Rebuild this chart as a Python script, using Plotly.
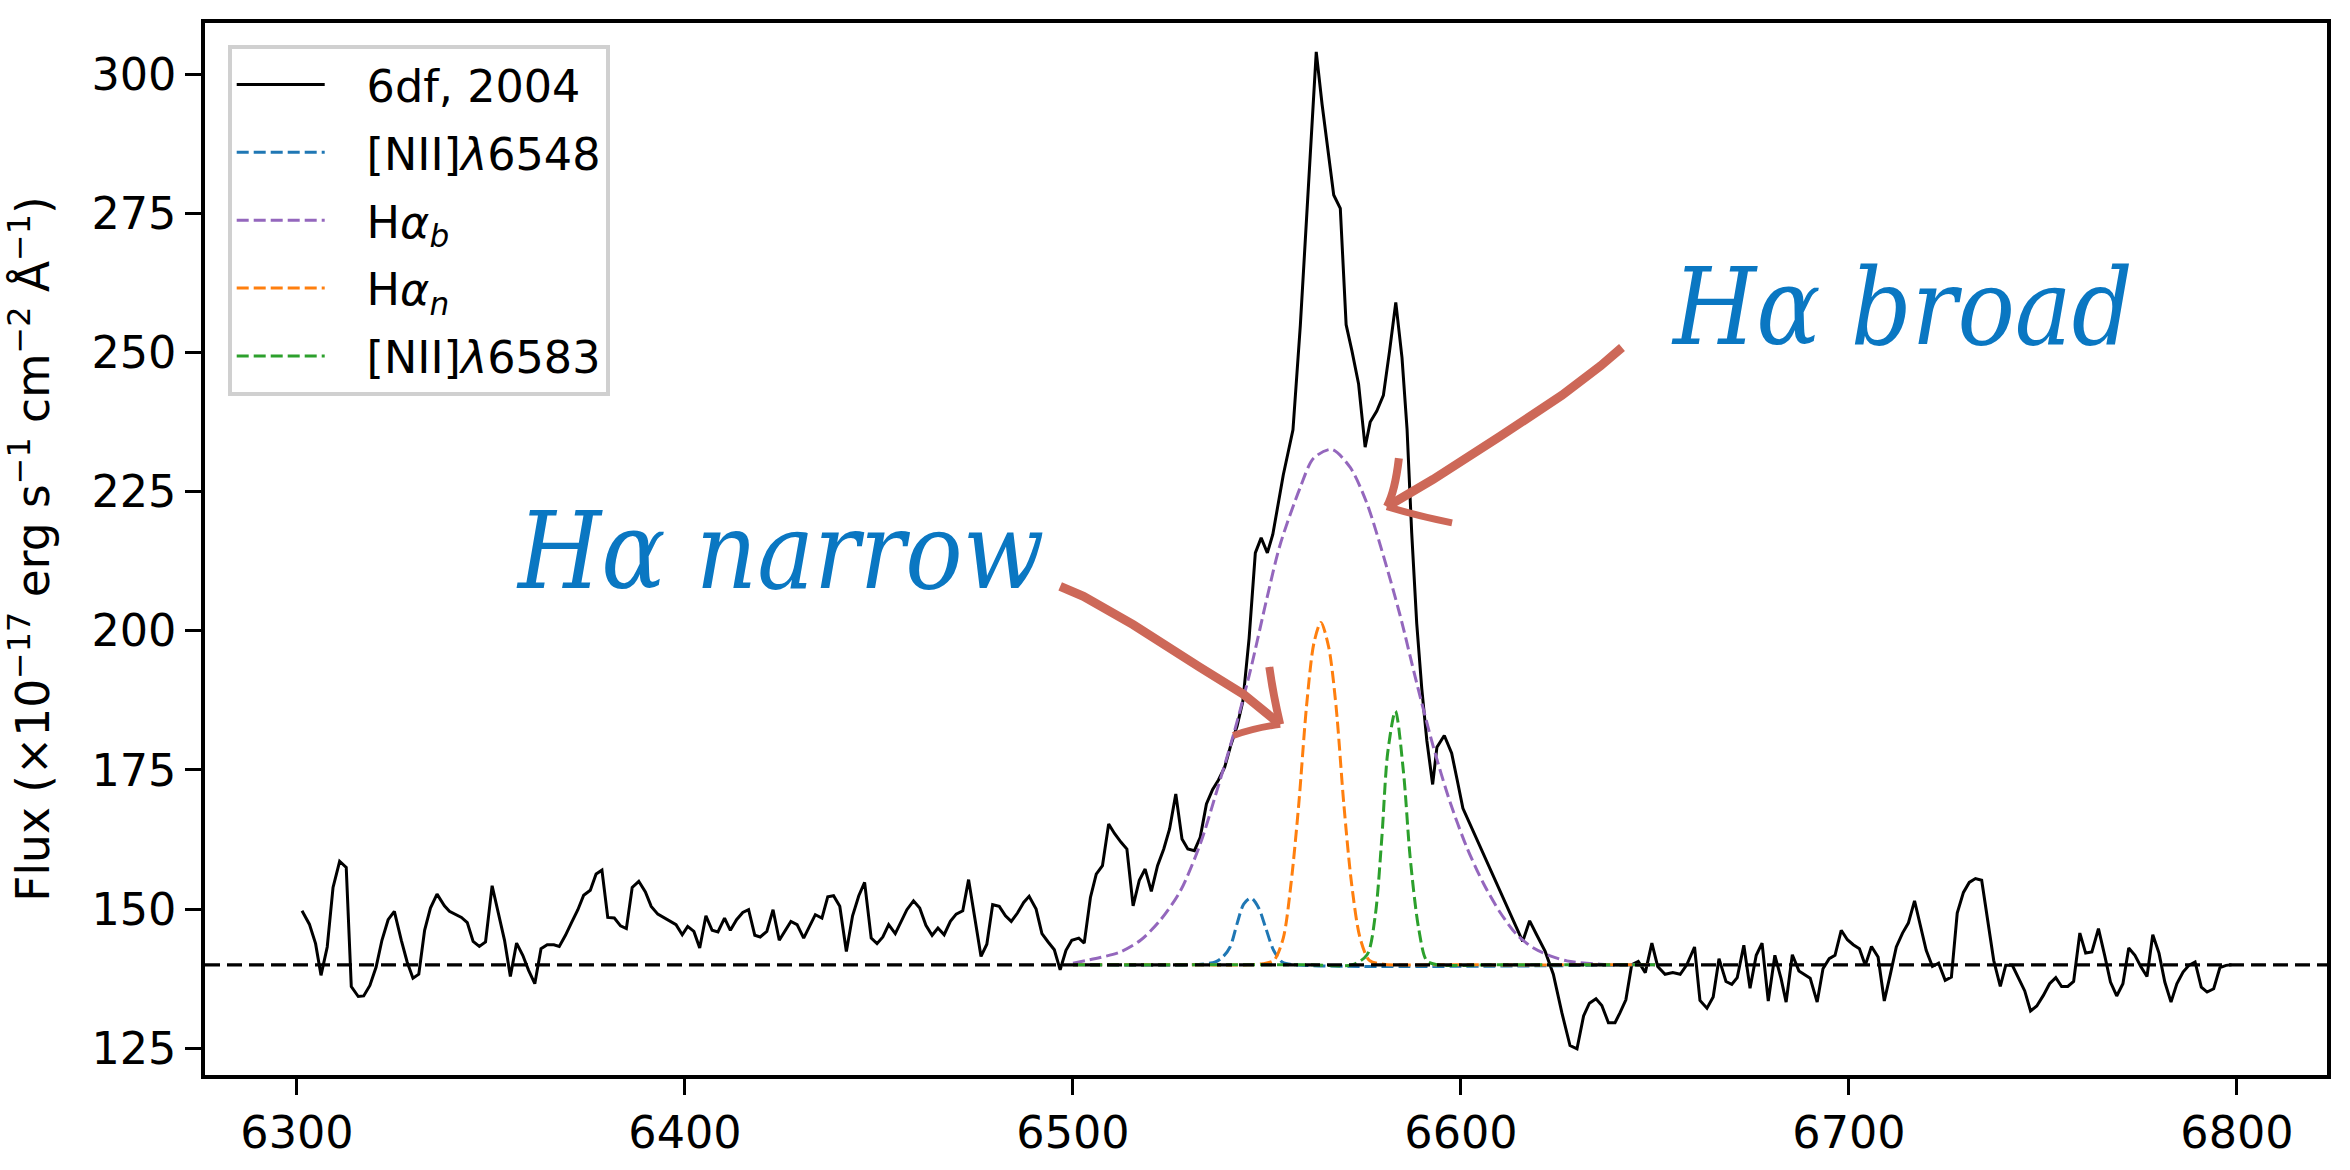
import plotly.graph_objects as go

# ---------------- data ----------------
wavelength = [
    6301.3, 6303.2, 6304.8, 6306.2, 6307.8, 6309.3, 6311.0, 6312.7, 6314.0, 6315.8,
    6317.2, 6318.8, 6320.4, 6321.9, 6323.5, 6325.1, 6326.9, 6328.4, 6329.9, 6331.4,
    6332.9, 6334.4, 6336.1, 6338.0, 6339.3, 6340.8, 6342.4, 6343.9, 6345.4, 6347.0,
    6348.6, 6350.3, 6351.8, 6353.5, 6355.0, 6356.6, 6358.2, 6359.7, 6361.3, 6362.9,
    6364.5, 6366.2, 6367.6, 6369.2, 6370.7, 6372.4, 6373.9, 6375.6, 6377.1, 6378.6,
    6380.1, 6381.8, 6383.4, 6384.9, 6386.4, 6388.1, 6389.8, 6391.3, 6393.0, 6394.5,
    6396.2, 6397.7, 6399.3, 6400.7, 6402.3, 6403.8, 6405.4, 6407.0, 6408.5, 6410.2,
    6411.7, 6413.3, 6414.9, 6416.4, 6418.0, 6419.4, 6421.1, 6422.7, 6424.3, 6425.9,
    6427.3, 6428.9, 6430.6, 6432.1, 6433.6, 6435.3, 6436.8, 6438.3, 6439.9, 6441.6,
    6443.2, 6444.8, 6446.3, 6448.0, 6449.5, 6451.0, 6452.5, 6454.2, 6455.8, 6457.2,
    6458.9, 6460.5, 6462.1, 6463.7, 6465.2, 6466.8, 6468.4, 6469.9, 6471.6, 6473.1,
    6474.7, 6476.3, 6477.8, 6479.3, 6481.0, 6482.6, 6484.1, 6485.7, 6487.3, 6488.7,
    6490.5, 6492.0, 6493.6, 6495.2, 6496.7, 6498.2, 6499.7, 6501.5, 6502.9, 6504.5,
    6506.0, 6507.6, 6509.2, 6510.7, 6512.4, 6513.9, 6515.5, 6517.1, 6518.6, 6520.2,
    6521.8, 6523.4, 6524.9, 6526.5, 6528.1, 6529.6, 6531.3, 6532.8, 6534.4, 6536.0,
    6537.5, 6539.1, 6540.7, 6542.3, 6543.8, 6545.4, 6547.0, 6548.5, 6550.1, 6551.5,
    6554.2, 6556.7, 6558.6, 6562.7, 6564.2, 6565.9, 6567.2, 6568.9, 6570.4, 6571.9,
    6573.6, 6575.3, 6576.6, 6578.3, 6580.0, 6581.6, 6583.2, 6584.8, 6586.1, 6587.3,
    6588.6, 6589.9, 6591.2, 6592.7, 6593.8, 6595.7, 6597.6, 6599.0, 6600.5, 6615.9,
    6617.7, 6619.5, 6621.7, 6623.8, 6626.0, 6628.1, 6629.9, 6631.6, 6633.1, 6634.8,
    6636.3, 6638.0, 6639.7, 6641.0, 6642.5, 6644.0, 6645.7, 6647.5, 6649.2, 6650.7,
    6652.6, 6654.6, 6656.5, 6658.2, 6660.2, 6661.6, 6663.4, 6665.0, 6666.5, 6668.3,
    6669.8, 6671.2, 6672.9, 6674.5, 6676.1, 6677.6, 6679.2, 6680.9, 6682.5, 6683.8,
    6685.4, 6687.1, 6688.5, 6690.0, 6691.8, 6693.3, 6694.9, 6696.4, 6698.0, 6699.6,
    6701.1, 6702.7, 6704.2, 6705.8, 6707.5, 6709.1, 6710.7, 6712.2, 6713.8, 6715.3,
    6716.9, 6718.4, 6719.9, 6721.5, 6723.1, 6724.8, 6726.4, 6727.9, 6729.5, 6731.0,
    6732.6, 6734.2, 6735.7, 6737.3, 6739.0, 6740.4, 6742.1, 6743.7, 6745.3, 6746.8,
    6748.4, 6750.1, 6751.7, 6753.3, 6754.8, 6756.4, 6757.9, 6759.5, 6761.0, 6762.6,
    6764.3, 6765.9, 6767.4, 6769.0, 6770.6, 6772.1, 6773.7, 6775.2, 6776.8, 6778.3,
    6779.9, 6781.4, 6783.0, 6784.5, 6786.1, 6787.6, 6789.2, 6790.8, 6792.3, 6794.0,
    6795.6, 6797.2, 6798.6,
]
flux = [
    149.7, 147.3, 143.8, 138.1, 143.2, 153.9, 158.6, 157.5, 136.1, 134.3,
    134.4, 136.3, 139.6, 144.4, 148.1, 149.6, 144.4, 140.5, 137.6, 138.3,
    146.2, 150.2, 152.7, 150.6, 149.6, 149.0, 148.5, 147.6, 144.2, 143.3,
    144.1, 154.2, 149.7, 144.4, 137.9, 143.9, 141.7, 139.0, 136.6, 142.9,
    143.6, 143.6, 143.3, 145.3, 147.5, 149.9, 152.5, 153.4, 156.3, 157.0,
    148.5, 148.4, 147.0, 146.5, 153.9, 155.0, 153.1, 150.5, 149.1, 148.5,
    147.9, 147.2, 145.4, 146.9, 146.0, 143.0, 148.8, 146.2, 145.9, 148.4,
    146.2, 148.1, 149.4, 149.9, 145.3, 145.0, 146.0, 149.9, 144.4, 146.2,
    147.8, 147.2, 144.8, 146.9, 149.0, 148.4, 152.2, 152.4, 150.5, 142.4,
    148.8, 152.4, 154.8, 144.8, 143.8, 145.0, 147.2, 145.6, 147.9, 149.9,
    151.5, 150.2, 147.1, 145.3, 146.6, 145.4, 147.8, 149.1, 149.7, 155.3,
    148.4, 141.5, 143.7, 150.8, 150.5, 148.8, 147.8, 149.3, 151.2, 152.3,
    150.0, 145.6, 144.1, 142.7, 139.1, 142.6, 144.4, 144.8, 143.9, 152.1,
    156.3, 157.8, 165.3, 163.6, 162.0, 160.8, 150.6, 155.2, 157.2, 153.2,
    157.8, 160.8, 164.4, 170.7, 162.6, 160.8, 160.5, 162.9, 168.9, 171.5,
    173.2, 175.5, 179.5, 182.9, 187.4, 198.7, 214.0, 216.7, 214.0, 217.3,
    228.0, 236.1, 254.9, 304.0, 294.6, 285.3, 278.3, 275.9, 255.0, 250.3,
    244.4, 233.0, 237.5, 239.5, 242.3, 250.3, 259.0, 249.1, 236.3, 217.6,
    201.3, 189.6, 180.3, 172.4, 179.1, 181.2, 178.0, 173.3, 168.1, 144.2,
    147.9, 145.4, 142.4, 138.3, 131.4, 125.5, 124.9, 130.8, 133.1, 133.9,
    132.7, 129.6, 129.6, 131.4, 133.7, 140.0, 140.6, 138.6, 143.9, 139.7,
    138.3, 138.6, 138.3, 140.0, 143.2, 133.6, 132.2, 134.2, 141.1, 137.0,
    136.5, 137.7, 143.5, 135.8, 141.7, 143.9, 133.5, 141.7, 137.5, 133.3,
    141.8, 138.9, 138.2, 137.6, 133.3, 139.3, 141.1, 141.7, 146.2, 144.5,
    143.6, 142.9, 139.9, 143.3, 141.4, 133.5, 138.4, 143.2, 145.7, 147.5,
    151.5, 147.0, 142.6, 139.7, 140.3, 137.2, 137.8, 149.3, 153.0, 154.8,
    155.5, 155.2, 147.9, 140.8, 136.1, 139.9, 139.9, 137.7, 135.3, 131.7,
    132.6, 134.5, 136.6, 137.7, 136.1, 136.1, 137.0, 145.7, 142.1, 142.3,
    146.5, 141.7, 136.9, 134.4, 136.6, 143.0, 141.7, 139.7, 137.9, 145.4,
    142.1, 136.9, 133.3, 136.6, 138.7, 139.9, 140.5, 136.0, 135.1, 135.7,
    139.5, 139.9, 140.0,
]

continuum_level = 140.0

# fitted components
nii6548_x = [6500.0, 6530.0, 6536.7, 6538.6, 6540.5, 6542.3, 6544.0, 6545.9, 6547.8,
             6549.6, 6551.7, 6553.9, 6557.0, 6650.0]
nii6548_y = [140.0, 140.0, 140.5, 141.4, 143.2, 147.4, 150.9, 152.0, 150.3,
             146.8, 142.6, 140.5, 140.0, 140.0]

ha_broad_x = [6500.0, 6507.0, 6512.2, 6517.4, 6522.5, 6527.7, 6532.8, 6537.1, 6541.4,
              6545.7, 6550.0, 6553.4, 6558.6, 6562.0, 6566.7, 6571.5, 6575.7, 6580.0,
              6584.3, 6588.6, 6592.9, 6597.2, 6601.5, 6605.8, 6610.1, 6614.4, 6618.7,
              6623.0, 6627.3, 6635.9, 6650.0]
ha_broad_y = [140.3, 141.3, 142.3, 144.4, 148.0, 153.3, 161.7, 171.3, 181.4,
              192.8, 205.9, 215.5, 225.8, 231.0, 232.6, 229.3, 223.0, 213.5,
              202.8, 190.6, 179.1, 169.2, 161.1, 154.6, 149.4, 145.4, 143.0,
              141.6, 140.7, 140.1, 140.0]

ha_narrow_x = [6500.0, 6530.0, 6545.0, 6549.0, 6551.8, 6554.2, 6556.2, 6558.2, 6560.2,
               6562.1, 6563.9, 6565.9, 6567.8, 6569.8, 6571.8, 6574.0, 6576.4, 6580.0,
               6595.0, 6650.0]
ha_narrow_y = [140.0, 140.0, 140.0, 140.2, 140.8, 144.8, 154.6, 168.9, 186.5,
               197.8, 201.5, 197.1, 186.5, 168.9, 154.6, 144.8, 140.8, 140.1,
               140.0, 140.0]

nii6583_x = [6500.0, 6560.0, 6572.0, 6575.8, 6577.9, 6579.6, 6581.1, 6583.1, 6585.2,
             6586.9, 6589.1, 6591.2, 6594.0, 6610.0, 6650.0]
nii6583_y = [140.0, 140.0, 140.0, 141.8, 148.8, 162.8, 178.0, 185.6, 174.5,
             159.3, 146.5, 140.7, 140.0, 140.0, 140.0]

spectrum_name = "6df, 2004"
component_names = ["[NII]<i>λ</i>6548", "H<i>α</i><sub><i>b</i></sub>",
                   "H<i>α</i><sub><i>n</i></sub>", "[NII]<i>λ</i>6583"]
component_colors = ["#1f77b4", "#9467bd", "#ff7f0e", "#2ca02c"]

x_ticks = [6300, 6400, 6500, 6600, 6700, 6800]
y_ticks = [125, 150, 175, 200, 225, 250, 275, 300]
x_range = [6276.3, 6823.2]
y_range = [120.2, 309.2]

# annotation geometry (data coordinates)
arrow_narrow_shaft = [(6496.7, 208.0), (6502.7, 206.2), (6515.5, 201.1), (6532.8, 193.4),
                      (6543.9, 188.6), (6553.4, 183.2)]
arrow_narrow_barb1 = [(6550.6, 193.5), (6551.6, 188.5), (6553.4, 183.2)]
arrow_narrow_barb2 = [(6553.4, 183.2), (6547.0, 182.6), (6541.3, 181.2)]
arrow_broad_shaft = [(6641.5, 250.9), (6636.0, 247.6), (6626.0, 242.3), (6610.0, 234.9),
                     (6592.8, 227.2), (6580.9, 222.3)]
arrow_broad_barb1 = [(6584.0, 231.0), (6583.0, 225.0), (6580.9, 222.3)]
arrow_broad_barb2 = [(6580.9, 222.3), (6589.0, 220.6), (6597.7, 219.4)]

FONT = "DejaVu Sans"
FS = 44.5
GAP = "\u2002\u2004"   # gap between legend sample and label

fig = go.Figure()
fig.add_trace(go.Scatter(x=wavelength, y=flux, mode="lines", name=GAP + spectrum_name,
                         line=dict(color="black", width=3),
                         legendgroup="g0"))
comp_data = [(nii6548_x, nii6548_y), (ha_broad_x, ha_broad_y),
             (ha_narrow_x, ha_narrow_y), (nii6583_x, nii6583_y)]
for i, ((cx, cy), nm, col) in enumerate(zip(comp_data, component_names, component_colors)):
    fig.add_trace(go.Scatter(x=cx, y=cy, mode="lines", name=GAP + nm,
                             line=dict(color=col, width=3, dash="12px,5px",
                                       shape="spline", smoothing=0.8),
                             legendgroup="g%d" % (i + 1)))


def path_of(pts, smooth=True):
    s = "M %f,%f" % pts[0]
    if smooth and len(pts) == 3:
        s += " Q %f,%f %f,%f" % (pts[1][0], pts[1][1], pts[2][0], pts[2][1])
    else:
        for p in pts[1:]:
            s += " L %f,%f" % p
    return s


ARROW_COL = "#cd6858"
shapes = [dict(type="line", xref="paper", x0=0, x1=1, yref="y",
               y0=continuum_level, y1=continuum_level, layer="above",
               line=dict(color="black", width=3.3, dash="15px,7px"))]
for pts, w in [(arrow_narrow_shaft, 9), (arrow_narrow_barb1, 8), (arrow_narrow_barb2, 7),
               (arrow_broad_shaft, 9), (arrow_broad_barb1, 8), (arrow_broad_barb2, 7)]:
    shapes.append(dict(type="path", xref="x", yref="y", path=path_of(pts),
                       line=dict(color=ARROW_COL, width=w), layer="above"))

annots = [
    dict(x=6356.0, y=214.3, xref="x", yref="y", text="Hα narrow", showarrow=False,
         xanchor="left", yanchor="middle",
         font=dict(family="DejaVu Serif Condensed, DejaVu Serif", size=106,
                   color="#0a77c2", style="italic")),
    dict(x=6653.6, y=258.0, xref="x", yref="y", text="Hα broad", showarrow=False,
         xanchor="left", yanchor="middle",
         font=dict(family="DejaVu Serif Condensed, DejaVu Serif", size=106,
                   color="#0a77c2", style="italic")),
]

axis_common = dict(showline=True, linecolor="black", linewidth=3.5, mirror=True,
                   ticks="outside", ticklen=16, tickwidth=3.3, tickcolor="black",
                   showgrid=False, zeroline=False,
                   tickfont=dict(family=FONT, size=FS, color="black"))

fig.update_layout(
    width=2350, height=1170,
    margin=dict(l=205, r=23, t=23, b=92, pad=0),
    paper_bgcolor="white", plot_bgcolor="white",
    font=dict(family=FONT, size=FS, color="black"),
    xaxis=dict(range=x_range, tickvals=x_ticks, ticktext=[str(v) for v in x_ticks],
               **axis_common),
    yaxis=dict(range=y_range, tickvals=y_ticks, ticktext=[str(v) for v in y_ticks],
               title=dict(text="Flux (×10<sup>−17</sup> erg s<sup>−1</sup> cm<sup>−2</sup> Å<sup>−1</sup>)",
                          font=dict(family=FONT, size=45.5), standoff=33),
               **axis_common),
    showlegend=True,
    legend=dict(x=0.0107, y=0.979, xanchor="left", yanchor="top",
                bgcolor="rgba(255,255,255,0.85)", bordercolor="#d0d0d0", borderwidth=4,
                font=dict(family=FONT, size=FS), itemwidth=88,
                traceorder="grouped", tracegroupgap=7),
    shapes=shapes,
    annotations=annots,
)

fig.write_html("out.html")
